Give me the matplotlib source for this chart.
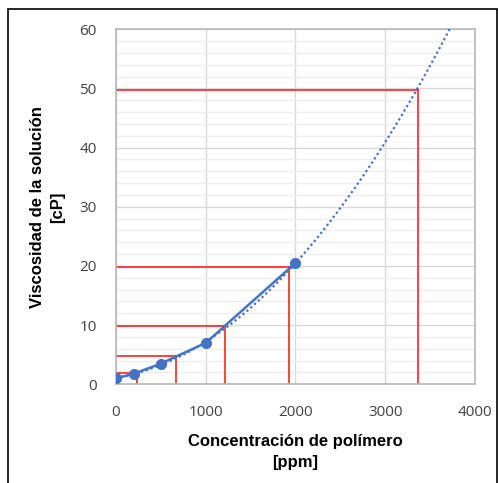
import numpy as np
import matplotlib.pyplot as plt
from matplotlib.patches import Rectangle
from matplotlib.ticker import MultipleLocator

# Measured viscosity vs polymer concentration
conc_ppm = [0, 200, 500, 1000, 2000]
visc_cp = [1.0, 1.8, 3.5, 7.0, 20.5]

# Target viscosities and the concentrations
target_visc = [1.9, 4.8, 9.9, 19.8, 49.8]
target_conc = [230, 670, 1210, 1930, 3360]

blue = "#4472C4"
red = "#FF2020"

fig = plt.figure(figsize=(4.98, 4.83), dpi=100)
ax = fig.add_axes([0.2329, 0.2043, 0.7209, 0.735])

# Second-order polynomial trend line, extended forward
coef = np.polyfit(conc_ppm, visc_cp, 2)
xt = np.linspace(0, 4000, 400)
ax.plot(xt, np.polyval(coef, xt), color=blue, lw=1.6, ls=(0, (1, 1.3)), zorder=3)

ax.plot(conc_ppm, visc_cp, color=blue, lw=1.8, marker="o", ms=7, zorder=4)

# Guide lines from each target viscosity down to the x axis
for xc, yv in zip(target_conc, target_visc):
    ax.plot([0, xc], [yv, yv], color=red, lw=1.4, alpha=0.85, zorder=2)
    ax.plot([xc, xc], [0, yv], color=red, lw=1.4, alpha=0.85, zorder=2)

ax.set_xlim(0, 4000)
ax.set_ylim(0, 60)
ax.xaxis.set_major_locator(MultipleLocator(1000))
ax.yaxis.set_major_locator(MultipleLocator(10))
ax.yaxis.set_minor_locator(MultipleLocator(2))
ax.grid(which="major", color="#D9D9D9", lw=1)
ax.grid(which="minor", axis="y", color="#EDEDED", lw=1)
ax.set_axisbelow(True)
ax.tick_params(which="both", length=0)
ax.tick_params(axis="x", pad=15)
ax.tick_params(axis="y", pad=14)
ax.tick_params(axis="both", labelsize=11, labelcolor="#404040")
for lab in ax.get_xticklabels() + ax.get_yticklabels():
    lab.set_family("Open Sans")
for s in ax.spines.values():
    s.set_color("#B8B8B8")
    s.set_linewidth(1.2)

ax.set_xlabel("Concentración de polímero\n[ppm]", fontsize=12, fontweight="bold",
              family="Liberation Sans", labelpad=10, linespacing=1.5)
ax.set_ylabel("Viscosidad de la solución\n[cP]", fontsize=12, fontweight="bold",
              family="Liberation Sans", labelpad=10, linespacing=1.4)

# Outer chart border
fig.patches.append(Rectangle((8 / 498, -0.05), 489 / 498, 1 - 9 / 483 + 0.05,
                             transform=fig.transFigure, fill=False,
                             edgecolor="black", lw=1.2))

fig.savefig("out.png", dpi=100)
